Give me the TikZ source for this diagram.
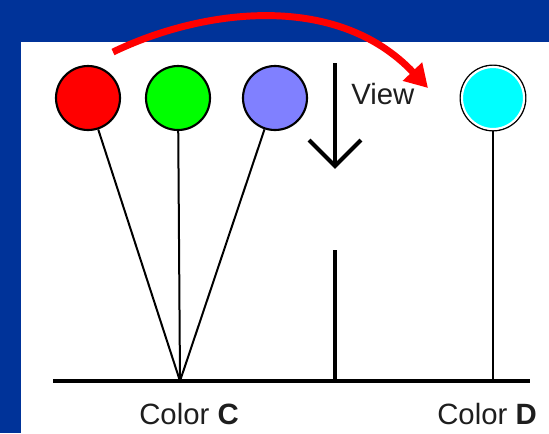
\documentclass[tikz,border=0pt]{standalone}
\usepackage{fontspec}
\setmainfont{Liberation Sans}
\usetikzlibrary{arrows.meta}
\definecolor{bgblue}{RGB}{0,51,153}
\definecolor{ballblue}{RGB}{128,128,255}
\definecolor{ballcyan}{RGB}{0,255,255}
\definecolor{ballred}{RGB}{255,0,0}
\definecolor{ballgreen}{RGB}{0,255,0}
\definecolor{txt}{RGB}{30,30,30}
\tikzset{
  ball/.style={circle, draw=black, line width=1.6pt, minimum size=48pt, inner sep=0pt},
  stringline/.style={draw=black, line width=1.5pt},
  lbl/.style={text=txt, font=\fontsize{22}{26}\selectfont, inner sep=0pt},
}
\begin{document}
\begin{tikzpicture}[x=0.75pt,y=-0.75pt]
\useasboundingbox (0,0) rectangle (549,433);
\fill[bgblue] (0,0) rectangle (549,433);
\fill[white] (21,42) rectangle (549,433);

% balls
\node[ball, fill=ballred] (r) at (88,98) {};
\node[ball, fill=ballgreen] (g) at (178,98) {};
\node[ball, fill=ballblue] (b) at (275,98) {};
\node[circle, draw=black, line width=1.2pt, minimum size=49pt, inner sep=0pt] (c) at (493,98) {};
\node[circle, draw=white, line width=1.6pt, fill=ballcyan, minimum size=46.5pt, inner sep=0pt] at (493,98) {};

% base line and joins
\coordinate (bl) at (53,381);
\coordinate (br) at (530,381);
\coordinate (conv) at (180,381);
\coordinate (cbase) at (493,381);
\coordinate (bartop) at (335,250);
\coordinate (barbot) at (335,381);
\draw[stringline] (r) -- (conv);
\draw[stringline] (g) -- (conv);
\draw[stringline] (b) -- (conv);
\draw[stringline] (c) -- (cbase);
\draw[line width=3.2pt] (barbot) -- (bartop);
\draw[line width=2.4pt] (bl) -- (br);

% view arrow
\coordinate (vtop) at (335,63);
\coordinate (vtip) at (335,166);
\draw[line width=3pt] (vtop) -- (vtip);
\draw[line width=3pt, line join=miter] ([shift={(-26,-26)}]vtip) -- (vtip) -- ([shift={(26,-26)}]vtip);
\node[lbl, anchor=base west] (view) at (351,104) {View};

% labels
\node[lbl, anchor=base] (lc) at (189,424) {Color \textbf{C}};
\node[lbl, anchor=base] (ld) at (487,424) {Color \textbf{D}};

% red arrow
\coordinate (astart) at (113,52);
\coordinate (aend) at (428,88);
\draw[ballred, line width=5.2pt, -{Triangle[length=17pt,width=19pt]}]
  (astart) .. controls (200,10) and (335,-10) .. (aend);
\end{tikzpicture}
\end{document}
